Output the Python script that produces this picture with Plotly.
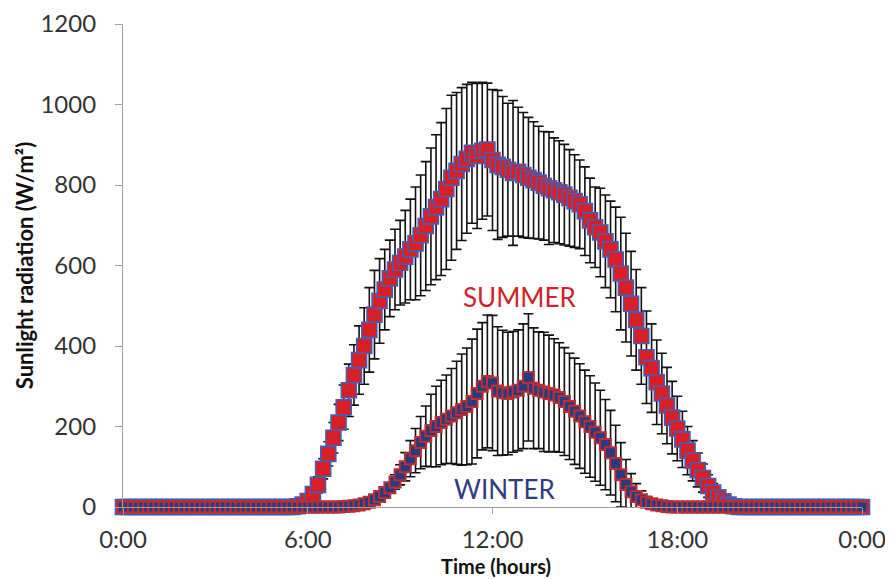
import plotly.graph_objects as go

# time in hours, 10-minute steps from 0:00 to 24:00
time_hours = [i / 6 for i in range(145)]

summer_mean = (
    [0] * 34 +
    [2, 6, 15, 32, 55, 95, 132, 172, 210, 248, 290, 328, 365, 400, 440, 478,
     512, 540, 568, 590, 607, 622, 640, 655, 675, 698, 722, 745, 765, 790,
     818, 835, 852, 865, 880, 872, 885, 888, 862, 850, 845, 838, 830, 833,
     825, 818, 812, 806, 798, 792, 787, 782, 776, 768, 760, 752, 735, 712,
     695, 682, 660, 640, 615, 580, 545, 505, 465, 425, 372, 345, 310, 282,
     252, 222, 195, 168, 140, 115, 92, 72, 52, 36, 24, 14, 6, 2] +
    [0] * 25
)
summer_err = (
    [0] * 34 +
    [3, 5, 10, 15, 20, 25, 30, 38, 45, 55, 65, 75, 85, 95, 105, 110,
     105, 100, 95, 100, 105, 115, 125, 140, 150, 160, 170, 180, 190, 200,
     205, 195, 190, 185, 175, 180, 170, 165, 175, 185, 175, 165, 180, 160,
     155, 150, 145, 140, 135, 140, 130, 128, 125, 120, 115, 110, 110, 105,
     100, 110, 115, 120, 130, 140, 135, 130, 125, 120, 115, 110, 105, 100,
     95, 90, 80, 70, 60, 50, 42, 35, 28, 22, 16, 10, 6, 3] +
    [0] * 25
)
winter_mean = (
    [0] * 43 +
    [1, 2, 3, 5, 8, 12, 18, 26, 36, 48, 62, 80, 100, 120, 140, 160, 176,
     190, 200, 210, 218, 226, 234, 242, 250, 262, 282, 300, 312, 308, 288,
     284, 282, 286, 290, 300, 322, 295, 290, 286, 282, 278, 272, 262, 250,
     238, 226, 212, 200, 186, 172, 155, 135, 108, 80, 56, 38, 26, 18, 12,
     8, 5, 3, 1] +
    [0] * 38
)
winter_err = (
    [0] * 50 +
    [5, 8, 12, 18, 25, 35, 45, 55, 65, 75, 90, 100, 105, 110, 118, 128,
     138, 145, 155, 160, 158, 165, 168, 160, 155, 152, 150, 150, 155, 158,
     150, 145, 148, 145, 140, 136, 134, 132, 132, 130, 128, 126, 122, 118,
     112, 105, 95, 80, 62, 45, 32, 22, 14, 8, 4] +
    [0] * 40
)

x_tick_vals = [0, 6, 12, 18, 24]
x_tick_text = ["0:00", "6:00", "12:00", "18:00", "0:00"]
y_tick_vals = [0, 200, 400, 600, 800, 1000, 1200]

fig = go.Figure()

fig.add_trace(go.Scatter(
    x=time_hours, y=summer_mean, mode="markers", name="Summer",
    marker=dict(symbol="square", size=15, color="#d71f27",
                line=dict(color="#4b5cb0", width=1.6)),
    error_y=dict(type="data", array=summer_err, visible=True,
                 color="#111111", thickness=1.6, width=5),
    cliponaxis=False, showlegend=False,
))
fig.add_trace(go.Scatter(
    x=time_hours, y=winter_mean, mode="markers", name="Winter",
    marker=dict(symbol="square", size=11, color="#2b3a7c",
                line=dict(color="#b83036", width=2)),
    error_y=dict(type="data", array=winter_err, visible=True,
                 color="#111111", thickness=1.6, width=5),
    cliponaxis=False, showlegend=False,
))

fig.add_annotation(x=12.89, y=522, text="SUMMER", showarrow=False,
                   font=dict(family="Lato", size=26, color="#d0232b"))
fig.add_annotation(x=12.4, y=44, text="WINTER", showarrow=False,
                   font=dict(family="Lato", size=26, color="#2e3c7c"))
fig.add_annotation(x=12.1, xref="x", y=-0.123, yref="paper",
                   yanchor="middle", text="<b>Time (hours)</b>",
                   showarrow=False,
                   font=dict(family="Lato", size=20, color="#111111"))

fig.update_layout(
    width=893, height=579,
    margin=dict(l=115, r=39, t=16, b=80),
    paper_bgcolor="white", plot_bgcolor="white",
    font=dict(family="Lato", color="#333333"),
    xaxis=dict(range=[0, 24], tickvals=x_tick_vals, ticktext=x_tick_text,
               automargin=False,
               showgrid=False, zeroline=False, showline=True,
               linecolor="#a0a0a0", linewidth=1.2,
               ticks="outside", ticklen=6, tickcolor="#a0a0a0",
               tickfont=dict(family="Lato", size=24, color="#333333"),
               ticklabelstandoff=5),
    yaxis=dict(range=[0, 1200], tickvals=y_tick_vals,
               automargin=False,
               showgrid=False, zeroline=False, showline=True,
               linecolor="#a0a0a0", linewidth=1.2,
               ticks="outside", ticklen=7, tickcolor="#a0a0a0",
               tickfont=dict(family="Lato", size=24, color="#333333"),
               ticklabelstandoff=14,
               title=dict(text="<b>Sunlight radiation (W/m²)</b>", standoff=0,
                          font=dict(family="Lato", size=22, color="#111111"))),
)

fig.write_html("out.html")
